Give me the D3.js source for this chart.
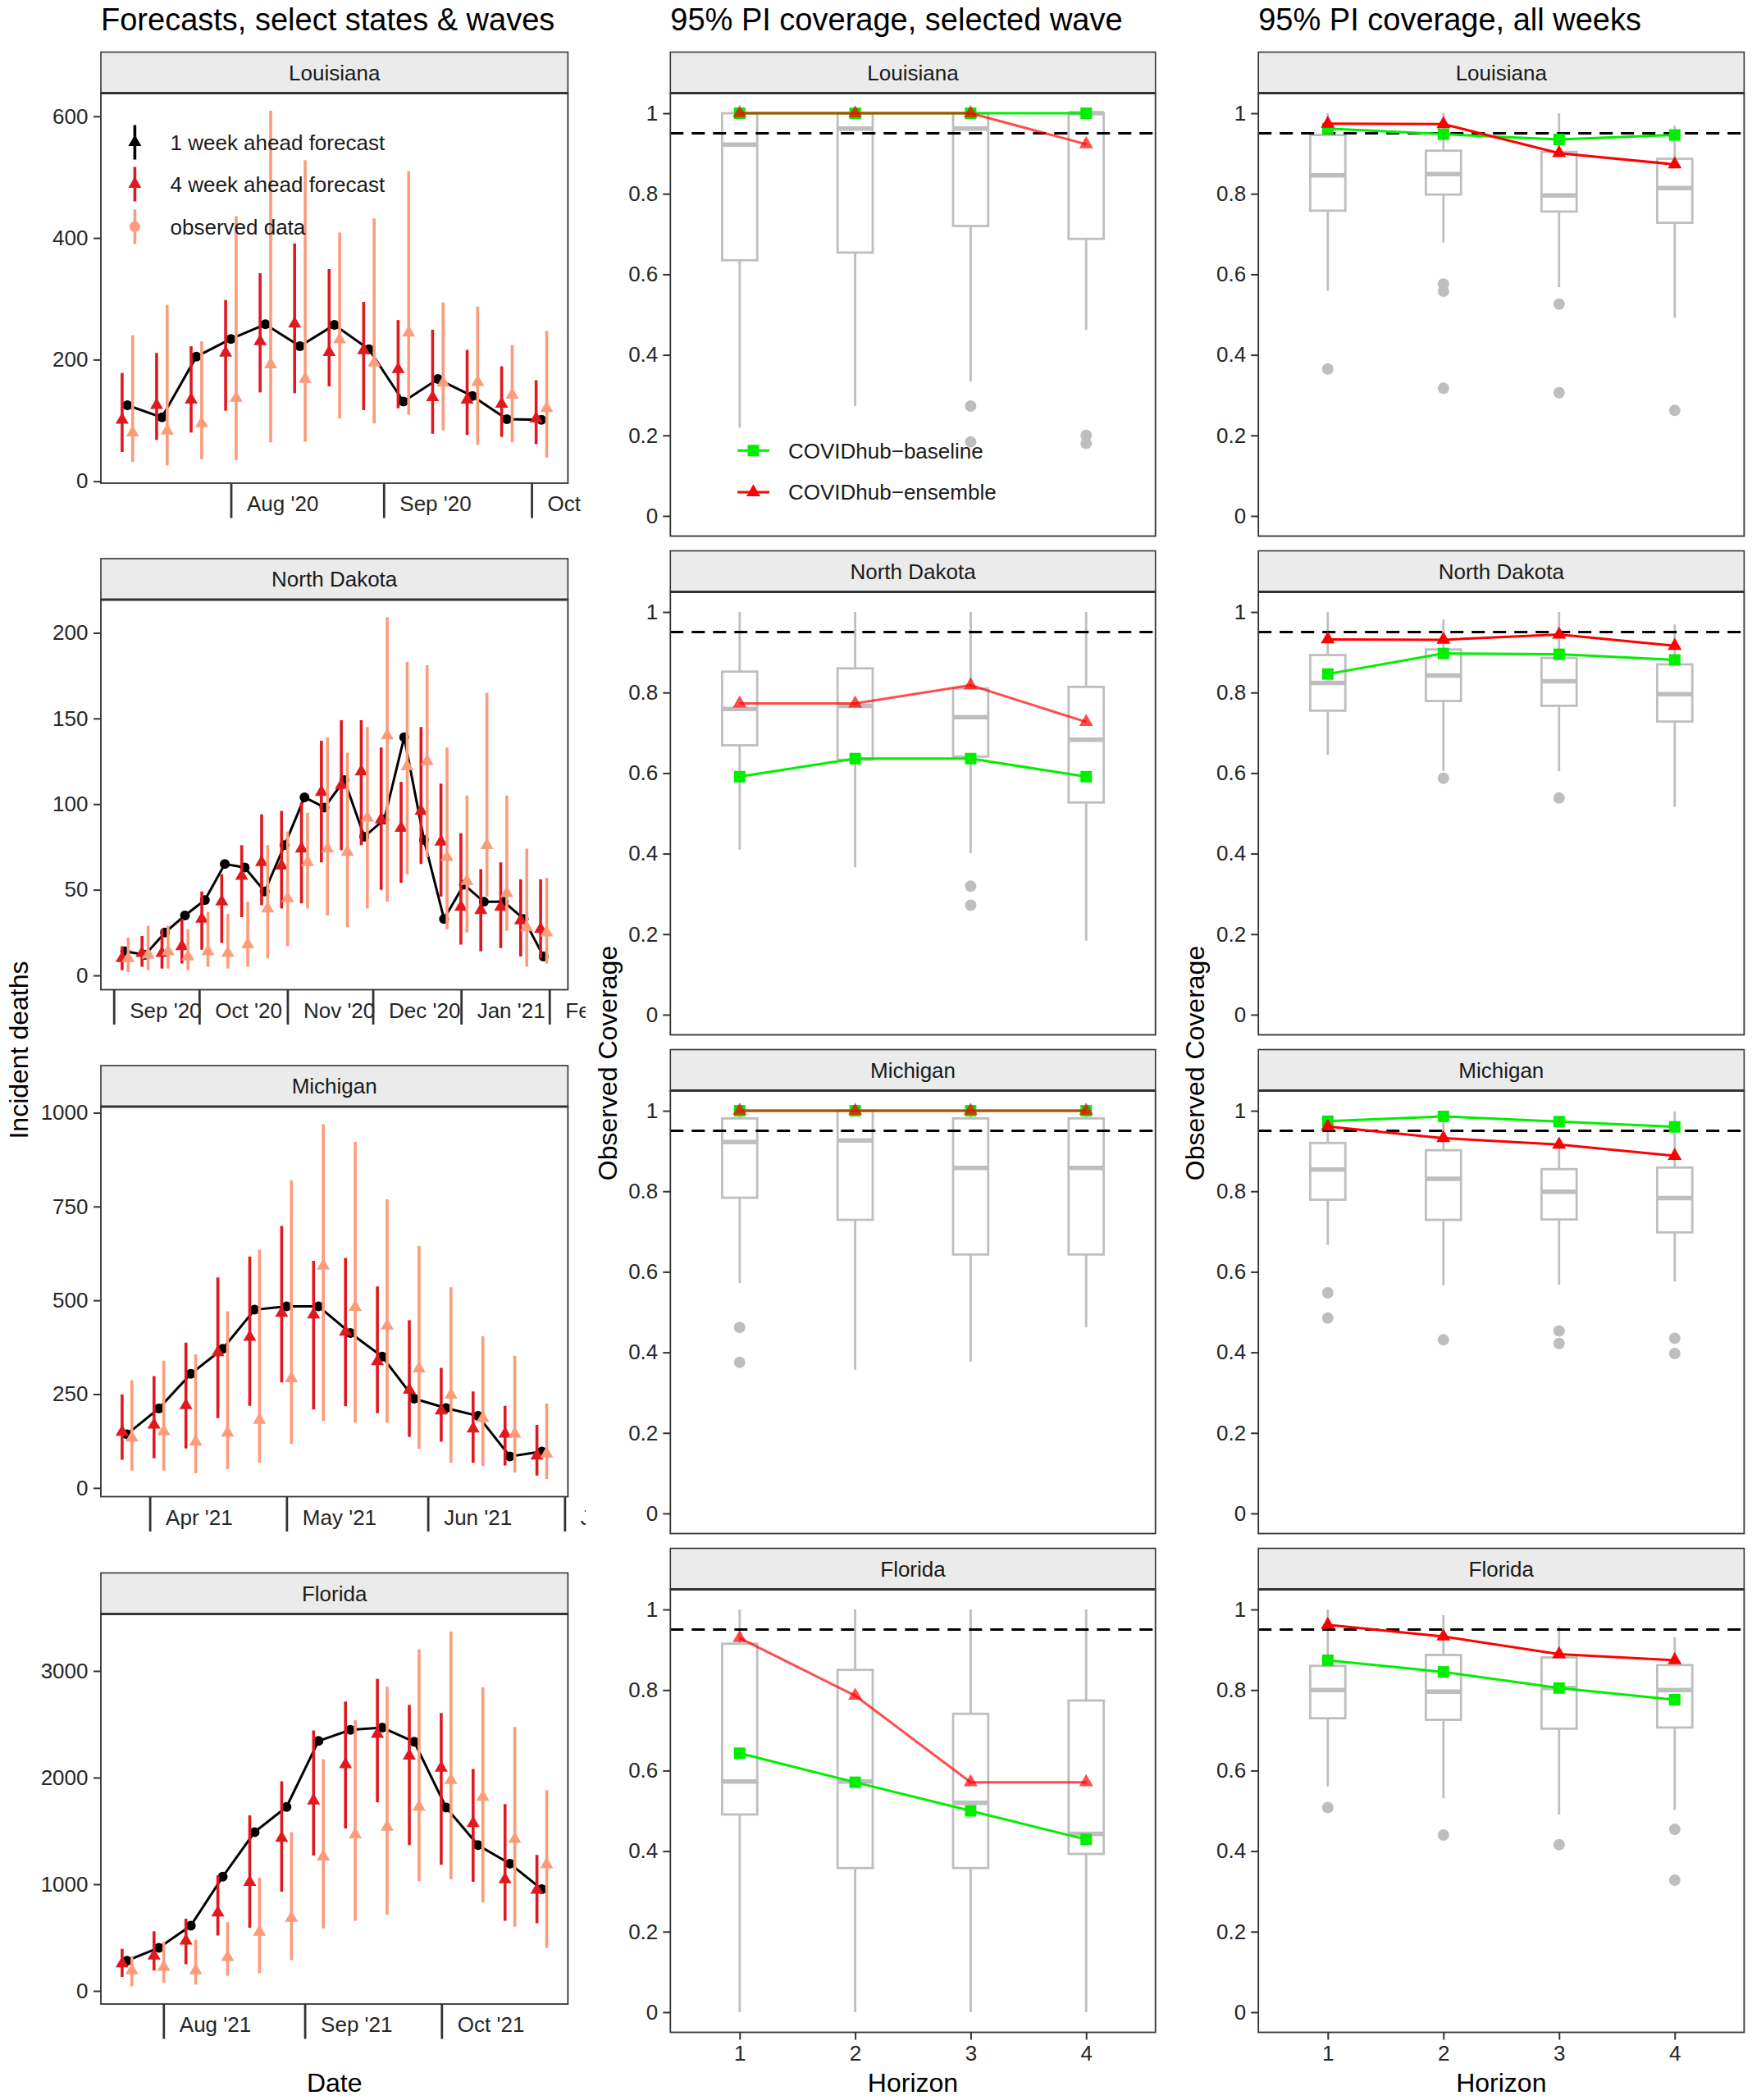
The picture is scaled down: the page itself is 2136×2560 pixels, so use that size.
<!DOCTYPE html>
<html><head><meta charset="utf-8">
<script src="https://cdn.jsdelivr.net/npm/d3@7"></script>
<style>
html,body{margin:0;padding:0;background:#fff;}
svg{display:block;}
</style></head><body>
<svg id="chart" width="2136" height="2560"></svg>
<script>
// ---------------- DATA ----------------
const stateNames = ["Louisiana", "North Dakota", "Michigan", "Florida"];
const columnTitles = ["Forecasts, select states & waves", "95% PI coverage, selected wave", "95% PI coverage, all weeks"];
const legendForecast = ["1 week ahead forecast", "4 week ahead forecast", "observed data"];
const legendModels = ["COVIDhub\u2212baseline", "COVIDhub\u2212ensemble"];
const horizons = [1, 2, 3, 4];
const covTicks = [0, 0.2, 0.4, 0.6, 0.8, 1];

// Louisiana
const laDates = ["2020-07-11","2020-07-18","2020-07-25","2020-08-01","2020-08-08","2020-08-15","2020-08-22","2020-08-29","2020-09-05","2020-09-12","2020-09-19","2020-09-26","2020-10-03"];
const laObserved = [125,105,205,234,258,222,257,217,131,168,140,102,101];
const laWk1Mid = [101,125,134,211,230,259,212,215,184,138,134,127,103];
const laWk1Lo  = [48,68,80,116,146,145,156,117,120,78,76,73,61];
const laWk1Hi  = [178,211,222,298,342,391,349,295,265,249,216,189,166];
const laWk4Mid = [80,83,95,137,192,168,233,195,244,162,163,142,120];
const laWk4Lo  = [32,26,36,35,64,65,103,95,109,84,60,64,39];
const laWk4Hi  = [240,290,230,436,609,528,409,432,510,294,287,224,247];
const laTicks = [0, 200, 400, 600];

// North Dakota
const ndDates = ["2020-09-05","2020-09-12","2020-09-19","2020-09-26","2020-10-03","2020-10-10","2020-10-17","2020-10-24","2020-10-31","2020-11-07","2020-11-14","2020-11-21","2020-11-28","2020-12-05","2020-12-12","2020-12-19","2020-12-26","2021-01-02","2021-01-09","2021-01-16","2021-01-23","2021-01-30"];
const ndObserved = [14,12,25,35,44,65,63,49,76,104,98,114,81,91,139,79,33,53,43,43,33,11];
const ndWk1Mid = [10,13,13,17,33,43,58,66,64,74,107,111,119,91,86,96,78,40,38,40,32,27];
const ndWk1Lo  = [3,5,4,7,15,19,34,41,39,42,66,73,76,50,54,65,46,18,14,16,11,10];
const ndWk1Hi  = [17,23,27,33,49,59,76,94,96,101,137,149,149,133,113,145,112,83,62,66,56,56];
const ndWk4Mid = [10,12,14,11,14,13,18,39,45,66,74,72,92,140,122,125,69,55,76,48,28,25];
const ndWk4Lo  = [2,3,4,3,5,4,5,10,17,39,35,28,39,43,59,69,27,25,46,26,5,7];
const ndWk4Hi  = [22,29,29,27,37,36,43,76,84,95,139,130,145,209,183,181,133,105,165,105,74,57];
const ndTicks = [0, 50, 100, 150, 200];

// Michigan
const miDates = ["2021-03-27","2021-04-03","2021-04-10","2021-04-17","2021-04-24","2021-05-01","2021-05-08","2021-05-15","2021-05-22","2021-05-29","2021-06-05","2021-06-12","2021-06-19","2021-06-26"];
const miObserved = [143,212,304,371,475,484,484,413,350,238,213,192,84,97];
const miWk1Mid = [149,168,220,361,402,466,462,416,337,261,206,158,144,86];
const miWk1Lo  = [75,79,105,186,219,281,209,218,199,136,123,67,60,33];
const miWk1Hi  = [249,298,387,561,617,698,605,613,537,447,320,257,219,168];
const miWk4Mid = [134,151,123,147,181,292,592,482,432,318,248,186,144,91];
const miWk4Lo  = [46,46,39,50,67,117,179,174,174,104,67,58,41,24];
const miWk4Hi  = [287,339,356,471,635,820,969,922,769,645,535,404,352,225];
const miTicks = [0, 250, 500, 750, 1000];

// Florida
const flDates = ["2021-07-24","2021-07-31","2021-08-07","2021-08-14","2021-08-21","2021-08-28","2021-09-04","2021-09-11","2021-09-18","2021-09-25","2021-10-02","2021-10-09","2021-10-16","2021-10-23"];
const flObserved = [283,404,611,1071,1489,1725,2343,2448,2468,2336,1719,1367,1193,953];
const flWk1Mid = [256,329,470,733,1019,1433,1784,2123,2409,2205,2090,1571,1045,946];
const flWk1Lo  = [131,191,250,519,592,930,1269,1522,1768,1367,1183,1022,657,634];
const flWk1Hi  = [394,559,677,1084,1646,1965,2442,2714,2925,2682,2606,2080,1752,1275];
const flWk4Mid = [191,224,191,316,552,684,1259,1466,1538,1725,1975,1817,1423,1186];
const flWk4Lo  = [43,76,59,141,164,289,585,657,716,1029,1045,831,601,404];
const flWk4Hi  = [322,460,480,644,1061,1489,2172,2540,2852,3204,3368,2846,2475,1883];
const flTicks = [0, 1000, 2000, 3000];

// Coverage, selected wave: boxes = [lowerWhisker, q1, median, q3, upperWhisker]
const waveBoxLA = [[0.219,0.635,0.922,1,1],[0.273,0.654,0.962,1,1],[0.334,0.72,0.962,1,1],[0.462,0.688,1,1,1]];
const waveOutLA = [[],[],[0.273,0.184],[0.2,0.18]];
const waveBaseLA = [1,1,1,1];
const waveEnsLA  = [1,1,1,0.923];

const waveBoxND = [[0.41,0.669,0.759,0.852,1],[0.366,0.633,0.767,0.86,1],[0.401,0.641,0.739,0.81,1],[0.184,0.527,0.683,0.814,1]];
const waveOutND = [[],[],[0.319,0.272],[]];
const waveBaseND = [0.591,0.636,0.636,0.591];
const waveEnsND  = [0.773,0.773,0.818,0.727];

const waveBoxMI = [[0.572,0.784,0.922,0.981,1],[0.357,0.729,0.926,1,1],[0.377,0.643,0.858,0.981,1],[0.462,0.643,0.858,0.981,1]];
const waveOutMI = [[0.462,0.375],[],[],[]];
const waveBaseMI = [1,1,1,1];
const waveEnsMI  = [1,1,1,1];

const waveBoxFL = [[0,0.491,0.573,0.915,1],[0,0.358,0.573,0.85,1],[0,0.358,0.52,0.741,1],[0,0.393,0.443,0.774,1]];
const waveOutFL = [[],[],[],[]];
const waveBaseFL = [0.643,0.571,0.5,0.429];
const waveEnsFL  = [0.929,0.786,0.571,0.571];

// Coverage, all weeks
const allBoxLA = [[0.559,0.758,0.846,0.946,1],[0.679,0.798,0.849,0.907,1],[0.568,0.756,0.796,0.904,1],[0.492,0.728,0.814,0.887,0.969]];
const allOutLA = [[0.365],[0.576,0.558,0.317],[0.526,0.306],[0.262]];
const allBaseLA = [0.962,0.948,0.935,0.946];
const allEnsLA  = [0.974,0.973,0.901,0.873];

const allBoxND = [[0.645,0.755,0.824,0.893,1],[0.605,0.779,0.842,0.907,0.981],[0.605,0.767,0.828,0.886,1],[0.516,0.728,0.796,0.87,0.969]];
const allOutND = [[],[0.587],[0.538],[]];
const allBaseND = [0.846,0.897,0.895,0.881];
const allEnsND  = [0.932,0.931,0.944,0.916];

const allBoxMI = [[0.667,0.779,0.854,0.92,0.97],[0.566,0.729,0.831,0.902,0.982],[0.568,0.73,0.799,0.855,0.93],[0.576,0.698,0.783,0.859,0.998]];
const allOutMI = [[0.548,0.485],[0.431],[0.453,0.422],[0.435,0.397]];
const allBaseMI = [0.974,0.986,0.973,0.96];
const allEnsMI  = [0.961,0.932,0.916,0.888];

const allBoxFL = [[0.561,0.73,0.8,0.86,1],[0.531,0.726,0.796,0.887,0.986],[0.491,0.704,0.805,0.881,0.958],[0.502,0.707,0.8,0.862,0.931]];
const allOutFL = [[0.508],[0.44],[0.416],[0.454,0.328]];
const allBaseFL = [0.874,0.845,0.805,0.776];
const allEnsFL  = [0.962,0.933,0.889,0.874];

// ---------------- STYLE / LAYOUT ----------------
const FONT = '"Liberation Sans", Arial, Helvetica, sans-serif';
const AXIS_TXT = "#262626";
const STRIP_FILL = "#EBEBEB";
const BORDER = "#333333";
const BOX_GREY = "#BEBEBE";
const OBS_COL = "#000000";
const WK1_COL = "#E0191F";
const WK4_COL = "#FC9C7A";
const BASE_COL = "#00EE00";
const ENS_COL = "#FF0000";
const DAY = 864e5;
const DODGE = 1.07;

const LEFT  = {x0: 123,    x1: 692.4,  tops: [63.5, 681, 1299, 1917.5], stripH: 50, plotH: 475.5};
const MID   = {x0: 817.3,  x1: 1408.7, tops: [63.5, 671.5, 1279.5, 1887.5], stripH: 50, plotH: 540};
const RIGHT = {x0: 1534.2, x1: 2126.4, tops: [63.5, 671.5, 1279.5, 1887.5], stripH: 50, plotH: 540};

const svg = d3.select("#chart").style("font-family", FONT);
const defs = svg.append("defs");

function expand(a, b, f = 0.05) { const r = b - a; return [a - f * r, b + f * r]; }

function drawStrip(g, x0, x1, top, h, label) {
  g.append("rect").attr("x", x0).attr("y", top).attr("width", x1 - x0).attr("height", h)
    .attr("fill", STRIP_FILL).attr("stroke", BORDER).attr("stroke-width", 1.6);
  g.append("text").attr("x", (x0 + x1) / 2).attr("y", top + h / 2).attr("dy", "0.36em")
    .attr("text-anchor", "middle").attr("font-size", 26).attr("fill", "#1a1a1a").text(label);
}
function drawPanelBg(g, x0, x1, y0, y1) {
  g.append("rect").attr("x", x0).attr("y", y0).attr("width", x1 - x0).attr("height", y1 - y0).attr("fill", "#fff");
}
function drawPanelBorder(g, x0, x1, y0, y1) {
  g.append("rect").attr("x", x0).attr("y", y0).attr("width", x1 - x0).attr("height", y1 - y0)
    .attr("fill", "none").attr("stroke", BORDER).attr("stroke-width", 1.8);
  g.append("line").attr("x1", x0).attr("x2", x1).attr("y1", y0).attr("y2", y0)
    .attr("stroke", BORDER).attr("stroke-width", 3);
}
function styleAxis(a, fs) {
  a.attr("font-family", FONT).attr("font-size", fs);
  a.select(".domain").remove();
  a.selectAll("text").attr("fill", AXIS_TXT);
  a.selectAll("line").attr("stroke", BORDER).attr("stroke-width", 2);
}

// ---------------- TITLES ----------------
[[LEFT.x0, columnTitles[0]], [MID.x0, columnTitles[1]], [RIGHT.x0, columnTitles[2]]].forEach(([x, t]) => {
  svg.append("text").attr("x", x).attr("y", 37).attr("font-size", 38).attr("fill", "#000").text(t);
});

// ---------------- LEFT COLUMN: forecasts ----------------
defs.append("clipPath").attr("id", "leftClip").append("rect")
  .attr("x", 0).attr("y", 0).attr("width", 714).attr("height", 2560);
const leftG = svg.append("g").attr("clip-path", "url(#leftClip)");

const forecastRows = [
  {dates: laDates, obs: laObserved, w1: [laWk1Mid, laWk1Lo, laWk1Hi], w4: [laWk4Mid, laWk4Lo, laWk4Hi], ticks: laTicks},
  {dates: ndDates, obs: ndObserved, w1: [ndWk1Mid, ndWk1Lo, ndWk1Hi], w4: [ndWk4Mid, ndWk4Lo, ndWk4Hi], ticks: ndTicks},
  {dates: miDates, obs: miObserved, w1: [miWk1Mid, miWk1Lo, miWk1Hi], w4: [miWk4Mid, miWk4Lo, miWk4Hi], ticks: miTicks},
  {dates: flDates, obs: flObserved, w1: [flWk1Mid, flWk1Lo, flWk1Hi], w4: [flWk4Mid, flWk4Lo, flWk4Hi], ticks: flTicks}
];

const tri = d3.symbol().type(d3.symbolTriangle).size(110);

forecastRows.forEach((r, i) => {
  const g = leftG.append("g");
  const top = LEFT.tops[i], pTop = top + LEFT.stripH, pBot = pTop + LEFT.plotH;
  const dates = r.dates.map(s => new Date(s + "T00:00:00Z"));
  const xd = expand(+dates[0] - DODGE * DAY, +dates[dates.length - 1] + DODGE * DAY);
  const x = d3.scaleUtc().domain([new Date(xd[0]), new Date(xd[1])]).range([LEFT.x0, LEFT.x1]);
  const lo = d3.min([...r.obs, ...r.w1[1], ...r.w4[1]]);
  const hi = d3.max([...r.obs, ...r.w1[2], ...r.w4[2]]);
  const y = d3.scaleLinear().domain(expand(lo, hi)).range([pBot, pTop]);

  drawPanelBg(g, LEFT.x0, LEFT.x1, pTop, pBot);
  drawStrip(g, LEFT.x0, LEFT.x1, top, LEFT.stripH, stateNames[i]);

  // y axis
  const ya = g.append("g").attr("transform", `translate(${LEFT.x0},0)`)
    .call(d3.axisLeft(y).tickValues(r.ticks).tickSize(9).tickPadding(6.5).tickFormat(d3.format("d")));
  styleAxis(ya, 26);

  // x axis (month boundaries with long ticks, labels to the right)
  const xa = g.append("g").attr("transform", `translate(0,${pBot})`)
    .call(d3.axisBottom(x).ticks(d3.utcMonth.every(1)).tickSize(42.5).tickFormat(d3.utcFormat("%b '%y")));
  styleAxis(xa, 26);
  xa.selectAll("line").attr("stroke-width", 2.8);
  xa.selectAll("text").attr("x", 19).attr("y", 34).attr("dy", null).attr("text-anchor", "start");

  const clipId = "pc" + i;
  defs.append("clipPath").attr("id", clipId).append("rect")
    .attr("x", LEFT.x0).attr("y", pTop).attr("width", LEFT.x1 - LEFT.x0).attr("height", pBot - pTop);
  const m = g.append("g").attr("clip-path", `url(#${clipId})`);

  // observed line + points
  m.append("path").datum(r.obs)
    .attr("d", d3.line().x((d, k) => x(dates[k])).y(d => y(d)))
    .attr("fill", "none").attr("stroke", OBS_COL).attr("stroke-width", 3);
  m.selectAll(".obs").data(r.obs).join("circle")
    .attr("cx", (d, k) => x(dates[k])).attr("cy", d => y(d)).attr("r", 6).attr("fill", OBS_COL);

  // forecast intervals
  [[r.w1, -DODGE, WK1_COL], [r.w4, DODGE, WK4_COL]].forEach(([s, off, col]) => {
    const xs = k => x(new Date(+dates[k] + off * DAY));
    m.selectAll(null).data(s[0]).join("line")
      .attr("x1", (d, k) => xs(k)).attr("x2", (d, k) => xs(k))
      .attr("y1", (d, k) => y(s[1][k])).attr("y2", (d, k) => y(s[2][k]))
      .attr("stroke", col).attr("stroke-width", 3.6);
    m.selectAll(null).data(s[0]).join("path")
      .attr("d", tri).attr("transform", (d, k) => `translate(${xs(k)},${y(d)})`).attr("fill", col);
  });

  drawPanelBorder(g, LEFT.x0, LEFT.x1, pTop, pBot);

  // legend inside Louisiana panel
  if (i === 0) {
    const lg = g.append("g");
    const keys = [[OBS_COL, "tri"], [WK1_COL, "tri"], [WK4_COL, "circle"]];
    const ys = [173.5, 224.5, 276.3];
    keys.forEach(([col, shp], k) => {
      const cy = ys[k], cx = 164.4;
      lg.append("line").attr("x1", cx).attr("x2", cx).attr("y1", cy - 21).attr("y2", cy + 21)
        .attr("stroke", col).attr("stroke-width", 3.6);
      if (shp === "tri") lg.append("path").attr("d", tri).attr("transform", `translate(${cx},${cy})`).attr("fill", col);
      else lg.append("circle").attr("cx", cx).attr("cy", cy).attr("r", 6.5).attr("fill", col);
      lg.append("text").attr("x", 207.5).attr("y", cy).attr("dy", "0.36em").attr("font-size", 26)
        .attr("fill", "#1a1a1a").text(legendForecast[k]);
    });
  }
});

// ---------------- COVERAGE COLUMNS ----------------
const waveRows = [
  [waveBoxLA, waveOutLA, waveBaseLA, waveEnsLA],
  [waveBoxND, waveOutND, waveBaseND, waveEnsND],
  [waveBoxMI, waveOutMI, waveBaseMI, waveEnsMI],
  [waveBoxFL, waveOutFL, waveBaseFL, waveEnsFL]
];
const allRows = [
  [allBoxLA, allOutLA, allBaseLA, allEnsLA],
  [allBoxND, allOutND, allBaseND, allEnsND],
  [allBoxMI, allOutMI, allBaseMI, allEnsMI],
  [allBoxFL, allOutFL, allBaseFL, allEnsFL]
];

const sq = d3.symbol().type(d3.symbolSquare).size(196);
const triBig = d3.symbol().type(d3.symbolTriangle).size(125);

function drawCoverage(L, rows, ensOpacity, withLegend) {
  rows.forEach(([boxes, outs, base, ens], i) => {
    const g = svg.append("g");
    const top = L.tops[i], pTop = top + L.stripH, pBot = pTop + L.plotH;
    const x = d3.scaleLinear().domain([0.4, 4.6]).range([L.x0, L.x1]);
    const y = d3.scaleLinear().domain([-0.05, 1.05]).range([pBot, pTop]);
    drawPanelBg(g, L.x0, L.x1, pTop, pBot);
    drawStrip(g, L.x0, L.x1, top, L.stripH, stateNames[i]);

    const ya = g.append("g").attr("transform", `translate(${L.x0},0)`)
      .call(d3.axisLeft(y).tickValues(covTicks).tickSize(9).tickPadding(6).tickFormat(d3.format("~g")));
    styleAxis(ya, 26);

    if (i === 3) {
      const xa = g.append("g").attr("transform", `translate(0,${pBot})`)
        .call(d3.axisBottom(x).tickValues(horizons).tickSize(9).tickPadding(7).tickFormat(d3.format("d")));
      styleAxis(xa, 26);
      xa.selectAll("text").attr("y", 34).attr("dy", null);
    }

    const bw = 0.152;
    // whiskers
    g.selectAll(null).data(boxes).join("line")
      .attr("x1", (d, k) => x(horizons[k])).attr("x2", (d, k) => x(horizons[k]))
      .attr("y1", d => y(d[4])).attr("y2", d => y(d[3]))
      .attr("stroke", BOX_GREY).attr("stroke-width", 2.8);
    g.selectAll(null).data(boxes).join("line")
      .attr("x1", (d, k) => x(horizons[k])).attr("x2", (d, k) => x(horizons[k]))
      .attr("y1", d => y(d[1])).attr("y2", d => y(d[0]))
      .attr("stroke", BOX_GREY).attr("stroke-width", 2.8);
    // boxes
    g.selectAll(null).data(boxes).join("rect")
      .attr("x", (d, k) => x(horizons[k] - bw)).attr("width", (d, k) => x(horizons[k] + bw) - x(horizons[k] - bw))
      .attr("y", d => y(d[3])).attr("height", d => y(d[1]) - y(d[3]))
      .attr("fill", "#fff").attr("stroke", BOX_GREY).attr("stroke-width", 2.8);
    // medians
    g.selectAll(null).data(boxes).join("line")
      .attr("x1", (d, k) => x(horizons[k] - bw)).attr("x2", (d, k) => x(horizons[k] + bw))
      .attr("y1", d => y(d[2])).attr("y2", d => y(d[2]))
      .attr("stroke", BOX_GREY).attr("stroke-width", 5.5);
    // outliers
    outs.forEach((o, k) => {
      g.selectAll(null).data(o).join("circle")
        .attr("cx", x(horizons[k])).attr("cy", d => y(d)).attr("r", 7).attr("fill", BOX_GREY);
    });
    // nominal level
    g.append("line").attr("x1", L.x0).attr("x2", L.x1).attr("y1", y(0.95)).attr("y2", y(0.95))
      .attr("stroke", "#000").attr("stroke-width", 3).attr("stroke-dasharray", "16,10");

    // baseline
    const ln = d3.line().x((d, k) => x(horizons[k])).y(d => y(d));
    g.append("path").datum(base).attr("d", ln).attr("fill", "none")
      .attr("stroke", BASE_COL).attr("stroke-width", 3);
    g.selectAll(null).data(base).join("path").attr("d", sq)
      .attr("transform", (d, k) => `translate(${x(horizons[k])},${y(d)})`).attr("fill", BASE_COL);
    // ensemble
    const eg = g.append("g").attr("opacity", 1);
    eg.append("path").datum(ens).attr("d", ln).attr("fill", "none")
      .attr("stroke", ENS_COL).attr("stroke-opacity", ensOpacity).attr("stroke-width", 3);
    eg.selectAll(null).data(ens).join("path").attr("d", triBig)
      .attr("transform", (d, k) => `translate(${x(horizons[k])},${y(d)})`)
      .attr("fill", ENS_COL).attr("fill-opacity", ensOpacity);

    drawPanelBorder(g, L.x0, L.x1, pTop, pBot);

    if (withLegend && i === 0) {
      const items = [[BASE_COL, sq, 549.3], [ENS_COL, triBig, 600]];
      items.forEach(([col, sym, cy], k) => {
        g.append("line").attr("x1", 899).attr("x2", 938).attr("y1", cy).attr("y2", cy)
          .attr("stroke", col).attr("stroke-width", 3);
        g.append("path").attr("d", sym).attr("transform", `translate(918.5,${cy})`).attr("fill", col);
        g.append("text").attr("x", 961).attr("y", cy).attr("dy", "0.36em").attr("font-size", 26)
          .attr("fill", "#1a1a1a").text(legendModels[k]);
      });
    }
  });
}
drawCoverage(MID, waveRows, 0.7, true);
drawCoverage(RIGHT, allRows, 1, false);

// ---------------- AXIS TITLES ----------------
function vLabel(xBase, yc, txt) {
  svg.append("text").attr("transform", `translate(${xBase},${yc}) rotate(-90)`)
    .attr("text-anchor", "middle").attr("font-size", 32).attr("fill", "#000").text(txt);
}
vLabel(34.4, 1280, "Incident deaths");
vLabel(752, 1296, "Observed Coverage");
vLabel(1468, 1296, "Observed Coverage");

svg.append("text").attr("x", (LEFT.x0 + LEFT.x1) / 2).attr("y", 2550).attr("text-anchor", "middle")
  .attr("font-size", 32).attr("fill", "#000").text("Date");
svg.append("text").attr("x", (MID.x0 + MID.x1) / 2).attr("y", 2550).attr("text-anchor", "middle")
  .attr("font-size", 32).attr("fill", "#000").text("Horizon");
svg.append("text").attr("x", (RIGHT.x0 + RIGHT.x1) / 2).attr("y", 2550).attr("text-anchor", "middle")
  .attr("font-size", 32).attr("fill", "#000").text("Horizon");
</script>
</body></html>
